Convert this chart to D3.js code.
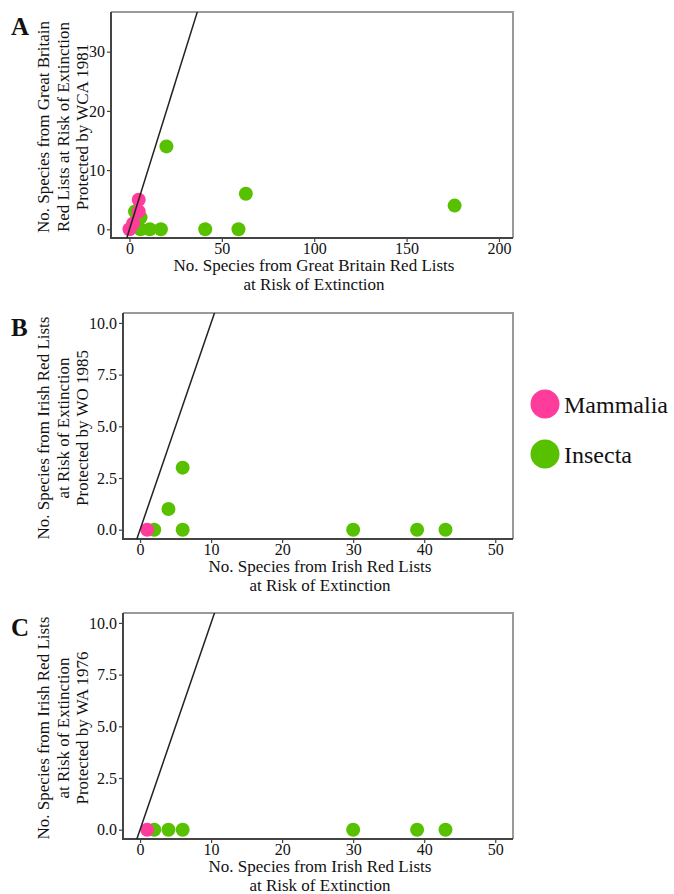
<!DOCTYPE html>
<html>
<head>
<meta charset="utf-8">
<script src="https://cdn.jsdelivr.net/npm/d3@7"></script>
<style>
  html, body { margin: 0; padding: 0; background: #fff; }
  svg { display: block; }
  svg text { font-family: 'Liberation Serif', LiberationSerif, Tinos, 'Noto Serif', 'DejaVu Serif', FreeSerif, 'Nimbus Roman', 'Times New Roman', Times, serif !important; fill: #111; }
</style>
</head>
<body>
<svg id="chart" width="674" height="894"></svg>
<script>
// ---------- data ----------
const classes = ["Mammalia", "Insecta"];
const classColors = ["#FF3C9B", "#57C100"];

// Panel A: Great Britain vs WCA 1981
const aMammaliaX = [0, 2, 5, 5];
const aMammaliaY = [0, 1, 5, 3];
const aInsectaX = [3, 6, 6, 11, 17, 41, 59, 63, 20, 176];
const aInsectaY = [3, 2, 0, 0, 0, 0, 0, 6, 14, 4];

// Panel B: Ireland vs WO 1985
const bMammaliaX = [1];
const bMammaliaY = [0];
const bInsectaX = [2, 6, 4, 6, 30, 39, 43];
const bInsectaY = [0, 0, 1, 3, 0, 0, 0];

// Panel C: Ireland vs WA 1976
const cMammaliaX = [1];
const cMammaliaY = [0];
const cInsectaX = [2, 4, 6, 30, 39, 43];
const cInsectaY = [0, 0, 0, 0, 0, 0];

const aXTicks = [0, 50, 100, 150, 200];
const aYTicks = [0, 10, 20, 30];
const irXTicks = [0, 10, 20, 30, 40, 50];
const irYTicks = [0, 2.5, 5, 7.5, 10];

const panels = [
  {
    letter: "A", mx: aMammaliaX, my: aMammaliaY, ix: aInsectaX, iy: aInsectaY,
    xDomain: [-10, 207.6], yDomain: [-1.47, 36.7],
    xTicks: aXTicks, yTicks: aYTicks, yFmt: d3.format("d"),
    box: { left: 111, right: 513, top: 12, bottom: 238 },
    xTitle: ["No. Species from Great Britain Red Lists", "at Risk of Extinction"],
    yTitle: ["No. Species from Great Britain", "Red Lists at Risk of Extinction", "Protected by WCA 1981"],
    letterY: 35
  },
  {
    letter: "B", mx: bMammaliaX, my: bMammaliaY, ix: bInsectaX, iy: bInsectaY,
    xDomain: [-2.4, 52.5], yDomain: [-0.45, 10.48],
    xTicks: irXTicks, yTicks: irYTicks, yFmt: d3.format(".1f"),
    box: { left: 123, right: 513, top: 313, bottom: 539 },
    xTitle: ["No. Species from Irish Red Lists", "at Risk of Extinction"],
    yTitle: ["No. Species from Irish Red Lists", "at Risk of Extinction", "Protected by WO 1985"],
    letterY: 336
  },
  {
    letter: "C", mx: cMammaliaX, my: cMammaliaY, ix: cInsectaX, iy: cInsectaY,
    xDomain: [-2.4, 52.5], yDomain: [-0.45, 10.48],
    xTicks: irXTicks, yTicks: irYTicks, yFmt: d3.format(".1f"),
    box: { left: 123, right: 513, top: 613, bottom: 839 },
    xTitle: ["No. Species from Irish Red Lists", "at Risk of Extinction"],
    yTitle: ["No. Species from Irish Red Lists", "at Risk of Extinction", "Protected by WA 1976"],
    letterY: 636
  }
];

const FONT = "'Liberation Serif', LiberationSerif, Tinos, 'Noto Serif', 'DejaVu Serif', FreeSerif, 'Nimbus Roman', 'Times New Roman', Times, serif";
const svg = d3.select("#chart").attr("font-family", FONT);

panels.forEach((p, pi) => {
  const b = p.box;
  const x = d3.scaleLinear().domain(p.xDomain).range([b.left, b.right]);
  const y = d3.scaleLinear().domain(p.yDomain).range([b.bottom, b.top]);
  const g = svg.append("g");

  const clipId = "clip" + pi;
  svg.append("clipPath").attr("id", clipId)
    .append("rect").attr("x", b.left).attr("y", b.top)
    .attr("width", b.right - b.left).attr("height", b.bottom - b.top);

  g.append("path")
    .attr("d", `M${b.left},${b.top}H${b.right}V${b.bottom}`)
    .attr("fill", "none").attr("stroke", "#9a9a9a").attr("stroke-width", 2);

  const xAxis = d3.axisBottom(x).tickValues(p.xTicks).tickSize(4).tickPadding(2).tickFormat(d3.format("d"));
  const yAxis = d3.axisLeft(y).tickValues(p.yTicks).tickSize(4).tickPadding(2).tickFormat(p.yFmt);

  const gx = g.append("g").attr("transform", `translate(0,${b.bottom})`).call(xAxis);
  const gy = g.append("g").attr("transform", `translate(${b.left},0)`).call(yAxis);
  [gx, gy].forEach(ax => {
    ax.attr("font-family", FONT).attr("font-size", 16);
    ax.select(".domain").remove();
    ax.selectAll("line").attr("stroke", "#444").attr("stroke-width", 1.2);
    ax.selectAll("text").attr("fill", "#222");
  });
  gx.selectAll("text").attr("dy", "0.6em");

  g.append("path")
    .attr("d", `M${b.left},${b.top}V${b.bottom}H${b.right}`)
    .attr("fill", "none").attr("stroke", "#444").attr("stroke-width", 2);

  const plot = g.append("g").attr("clip-path", `url(#${clipId})`);
  const ins = p.ix.map((v, i) => ({ x: v, y: p.iy[i] }));
  const mam = p.mx.map((v, i) => ({ x: v, y: p.my[i] }));
  plot.selectAll("circle.ins").data(ins).join("circle").attr("class", "ins")
    .attr("cx", d => x(d.x)).attr("cy", d => y(d.y)).attr("r", 7)
    .attr("fill", classColors[1]);
  plot.selectAll("circle.mam").data(mam).join("circle").attr("class", "mam")
    .attr("cx", d => x(d.x)).attr("cy", d => y(d.y)).attr("r", 7)
    .attr("fill", classColors[0]);

  const lo = Math.min(p.xDomain[0], p.yDomain[0]);
  const hi = Math.max(p.xDomain[1], p.yDomain[1]);
  plot.append("line")
    .attr("x1", x(lo)).attr("y1", y(lo)).attr("x2", x(hi)).attr("y2", y(hi))
    .attr("stroke", "#222").attr("stroke-width", 1.5);

  const cx = (b.left + b.right) / 2;
  p.xTitle.forEach((t, i) => {
    g.append("text").attr("x", cx + 2).attr("y", b.bottom + 33 + i * 19)
      .attr("text-anchor", "middle").attr("font-size", 17).text(t);
  });

  const cy = (b.top + b.bottom) / 2 + 2;
  p.yTitle.forEach((t, i) => {
    const bx = 49 + i * 19.5;
    g.append("text").attr("transform", `translate(${bx},${cy}) rotate(-90)`)
      .attr("text-anchor", "middle").attr("font-size", 17).text(t);
  });

  g.append("text").attr("x", 11).attr("y", p.letterY)
    .attr("font-size", 25).attr("font-weight", "bold").text(p.letter);
});

const legend = svg.append("g");
classes.forEach((c, i) => {
  const ly = 404 + i * 50;
  legend.append("circle").attr("cx", 545).attr("cy", ly).attr("r", 14.5).attr("fill", classColors[i]);
  legend.append("text").attr("x", 564).attr("y", ly + 9).attr("font-size", 24).text(c);
});
</script>
</body>
</html>
